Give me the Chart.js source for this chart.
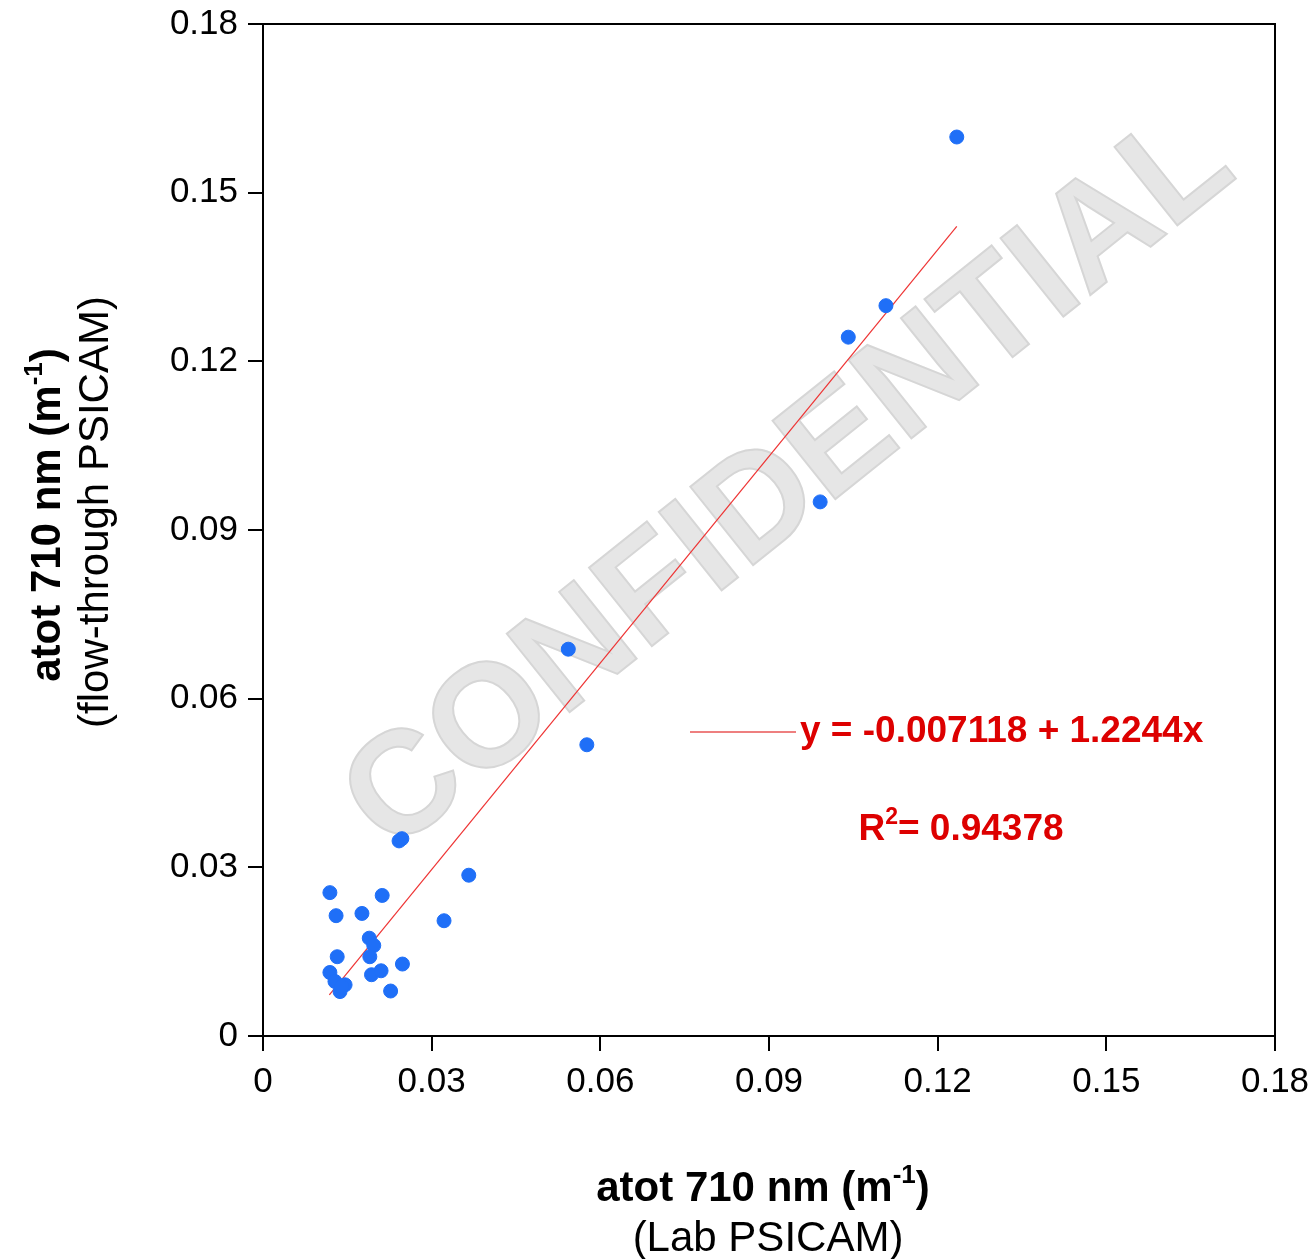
<!DOCTYPE html>
<html>
<head>
<meta charset="utf-8">
<script src="https://cdn.jsdelivr.net/npm/chart.js@4.4.1/dist/chart.umd.min.js"></script>
<style>
  body { margin: 0; background: #fff; }
  #wrap { width: 1314px; height: 1259px; }
</style>
</head>
<body>
<div id="wrap"><canvas id="grafico" width="1314" height="1259"></canvas></div>
<script>
// Lab PSICAM (x) vs flow-through PSICAM (y)
const labX = [0.0242, 0.0247, 0.0366, 0.0119, 0.0212, 0.0130, 0.0176, 0.0322, 0.0189, 0.0197,
              0.0190, 0.0132, 0.0248, 0.0119, 0.0193, 0.0210, 0.0128, 0.0146, 0.0137, 0.0140,
              0.0227, 0.0543, 0.0576, 0.0991, 0.1041, 0.1108, 0.1234];
const flowY = [0.0347, 0.0351, 0.0286, 0.0255, 0.0250, 0.0214, 0.0218, 0.0205, 0.0174, 0.0161,
               0.0141, 0.0141, 0.0128, 0.0113, 0.0109, 0.0116, 0.0097, 0.0091, 0.0079, 0.0088,
               0.0080, 0.0688, 0.0518, 0.0950, 0.1243, 0.1299, 0.1599];
const ajusteX = [0.0118, 0.1234];
const ajusteY = [0.0073, 0.1440];
const ticksEje = [0, 0.03, 0.06, 0.09, 0.12, 0.15, 0.18];

const puntos = labX.map((x, i) => ({ x: x, y: flowY[i] }));
const linea = ajusteX.map((x, i) => ({ x: x, y: ajusteY[i] }));

const FUENTE = '"Liberation Sans", Arial, sans-serif';
const ROJO = '#dd0000';

function textoSup(ctx, partes, x, y, align, tam) {
    // partes: [[texto, sup?], ...]
    const fNormal = 'bold ' + tam + 'px ' + FUENTE;
    const fSup = 'bold ' + Math.round(tam * 0.62) + 'px ' + FUENTE;
    let ancho = 0;
    partes.forEach(p => {
        ctx.font = p[1] ? fSup : fNormal;
        ancho += ctx.measureText(p[0]).width;
    });
    let cx = align === 'center' ? x - ancho / 2 : x;
    ctx.textAlign = 'left';
    partes.forEach(p => {
        ctx.font = p[1] ? fSup : fNormal;
        ctx.fillText(p[0], cx, p[1] ? y - tam * 0.42 : y);
        cx += ctx.measureText(p[0]).width;
    });
}

const extras = {
    id: 'extras',
    beforeDatasetsDraw(chart) {
        const ctx = chart.ctx;
        // marca de agua
        ctx.save();
        ctx.translate(790, 484);
        ctx.rotate(-38.7 * Math.PI / 180);
        ctx.font = 'bold 146px ' + FUENTE;
        ctx.textAlign = 'center';
        ctx.textBaseline = 'middle';
        ctx.fillStyle = '#e6e6e6';
        ctx.fillText('CONFIDENTIAL', 0, 0);
        ctx.lineWidth = 2;
        ctx.strokeStyle = '#d6d6d6';
        ctx.strokeText('CONFIDENTIAL', 0, 0);
        ctx.restore();
    },
    afterDraw(chart) {
        const ctx = chart.ctx;
        const a = chart.chartArea;
        ctx.save();
        ctx.strokeStyle = '#000';
        ctx.lineWidth = 2;
        ctx.strokeRect(a.left, a.top, a.right - a.left, a.bottom - a.top);

        // leyenda de la recta
        ctx.strokeStyle = ROJO;
        ctx.lineWidth = 1.2;
        ctx.beginPath();
        ctx.moveTo(690, 732);
        ctx.lineTo(796, 732);
        ctx.stroke();
        ctx.fillStyle = ROJO;
        ctx.textBaseline = 'alphabetic';
        textoSup(ctx, [['y = -0.007118 + 1.2244x', false]], 800, 742, 'left', 37);
        textoSup(ctx, [['R', false], ['2', true], ['= 0.94378', false]], 961, 840, 'center', 37);

        // títulos de ejes
        ctx.fillStyle = '#000';
        textoSup(ctx, [['atot 710 nm (m', false], ['-1', true], [')', false]], 763, 1201, 'center', 42);
        ctx.font = '42px ' + FUENTE;
        ctx.textAlign = 'center';
        ctx.fillText('(Lab PSICAM)', 768, 1251);

        ctx.save();
        ctx.translate(60, 515);
        ctx.rotate(-Math.PI / 2);
        textoSup(ctx, [['atot 710 nm (m', false], ['-1', true], [')', false]], 0, 0, 'center', 42);
        ctx.font = '42px ' + FUENTE;
        ctx.textAlign = 'center';
        ctx.fillText('(flow-through PSICAM)', 3, 48);
        ctx.restore();
        ctx.restore();
    }
};

function etiqueta(v) {
    return v === 0 ? '0' : v.toFixed(2);
}

const ejeComun = {
    type: 'linear',
    min: 0,
    max: 0.18,
    afterBuildTicks: s => { s.ticks = ticksEje.map(v => ({ value: v })); },
    grid: { drawOnChartArea: false, drawTicks: true, tickLength: 15, color: '#000', lineWidth: 2 },
    border: { display: true, color: '#000', width: 2 },
    ticks: {
        color: '#000',
        font: { size: 35, family: FUENTE },
        padding: 10,
        maxRotation: 0,
        callback: v => etiqueta(v)
    }
};

new Chart(document.getElementById('grafico').getContext('2d'), {
    type: 'scatter',
    data: {
        datasets: [
            {
                label: 'datos',
                data: puntos,
                backgroundColor: '#1f6ff7',
                borderColor: '#1f6ff7',
                pointRadius: 7,
                pointHoverRadius: 7
            },
            {
                label: 'ajuste',
                type: 'line',
                data: linea,
                borderColor: '#ee3333',
                borderWidth: 1.2,
                pointRadius: 0,
                fill: false
            }
        ]
    },
    options: {
        responsive: false,
        animation: false,
        layout: { padding: { top: 24, right: 39, left: 0, bottom: 0 } },
        plugins: { legend: { display: false }, tooltip: { enabled: false } },
        scales: {
            x: Object.assign({}, ejeComun, { afterFit: s => {
                s.height = 223; s.paddingLeft = 0; s.paddingRight = 0;
            } }),
            y: Object.assign({}, ejeComun, { afterFit: s => {
                s.width = 263; s.paddingTop = 0; s.paddingBottom = 0;
            } })
        }
    },
    plugins: [extras]
});
</script>
</body>
</html>
